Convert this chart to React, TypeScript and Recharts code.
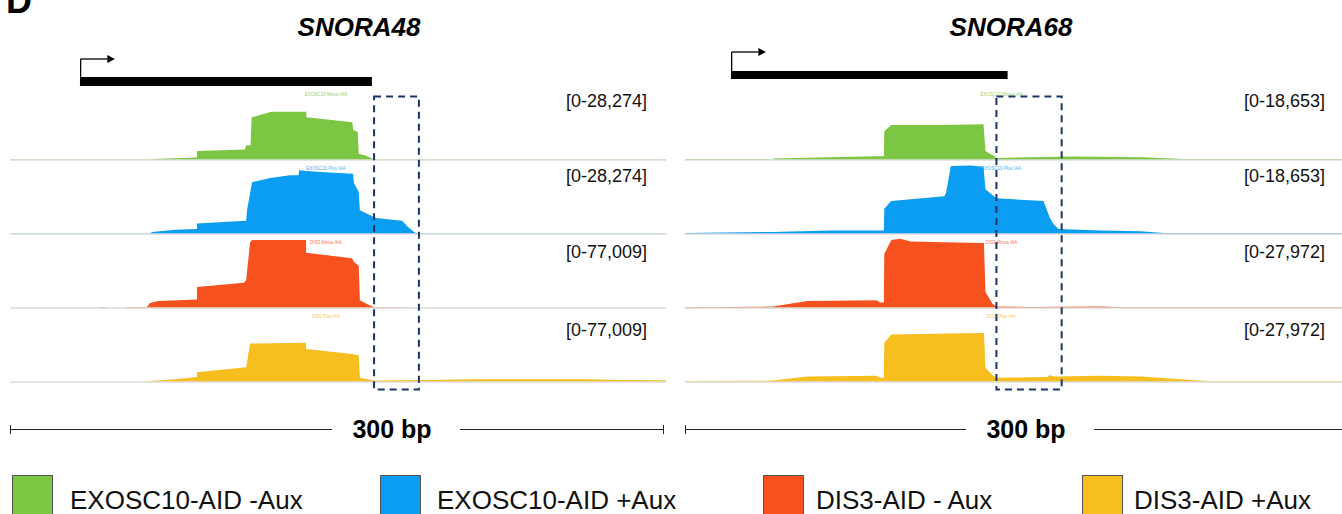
import React from 'react';
import { AreaChart, Area, XAxis, YAxis, ReferenceLine, ReferenceArea, ComposedChart, Line } from 'recharts';

type Pt = [number, number];

const FONT = '"Liberation Sans", Arial, Helvetica, sans-serif';

// ---- text / categories ----
const geneTitles = ['SNORA48', 'SNORA68'];
const legendLabels = ['EXOSC10-AID -Aux', 'EXOSC10-AID +Aux', 'DIS3-AID - Aux', 'DIS3-AID +Aux'];
const trackNames = ['EXOSC10 Minus IAA', 'EXOSC10 Plus IAA', 'DIS3 Minus IAA', 'DIS3 Plus IAA'];
const trackColors = ['#7DC644', '#0A9DF2', '#F6511F', '#F6BF1F'];
const scaleLabel = '300 bp';
const regionLength = 300; // bp shown in each panel

// ---- data ranges (autoscale maxima) ----
const snora48Max = [28274, 28274, 77009, 77009];
const snora68Max = [18653, 18653, 27972, 27972];
const snora48RangeLabels = ['[0-28,274]', '[0-28,274]', '[0-77,009]', '[0-77,009]'];
const snora68RangeLabels = ['[0-18,653]', '[0-18,653]', '[0-27,972]', '[0-27,972]'];

// ---- gene models & highlighted windows (bp within panel) ----
const snora48Gene: Pt = [32.0, 165.5];
const snora68Gene: Pt = [21.0, 147.3];
const snora48Window: Pt = [166.5, 187.0];
const snora68Window: Pt = [142.2, 172.0];

// ---- coverage tracks [bp, reads] ----
const s48Exo10Minus: Pt[] = [
  [0, 226], [64, 226], [65, 424], [85.5, 990], [85.5, 3676], [107.5, 4241], [108, 5938], [110, 5938],
  [110.5, 17247], [114, 18095], [119.5, 19509], [135.5, 19509], [135.5, 17247], [156.5, 15268],
  [157, 12158], [159, 11310], [159.5, 2545], [163, 1696], [165.5, 565], [167.5, 226], [300, 226],
];
const s48Exo10Plus: Pt[] = [
  [0, 226], [64, 226], [65, 848], [75.5, 1696], [85.5, 1979], [85.5, 4241], [108, 5372], [108.4, 9613],
  [110.7, 20923], [119, 22619], [128, 23750], [132, 23750], [132.2, 25729], [135.4, 25447], [146, 24881],
  [156.9, 24316], [157.3, 20640], [159.5, 16964], [160, 9613], [167.4, 6503], [179.3, 5372], [182, 2827],
  [184.8, 848], [186, 226], [300, 226],
];
const s48Dis3Minus: Pt[] = [
  [0, 0], [40, 0], [40, 770], [44, 770], [44, 0], [53, 0], [53, 770], [62.6, 770], [64, 5391], [67.7, 7701],
  [85.5, 9241], [85.5, 23103], [107, 27723], [108, 30804], [109.8, 72388], [110.7, 74699], [135.4, 74699],
  [135.4, 60837], [156.4, 54676], [157.3, 50826], [159.5, 46205], [160, 8471], [163.7, 3850], [166.5, 770],
  [184.4, 385], [185, 0], [300, 0],
];
const s48Dis3Plus: Pt[] = [
  [0, 0], [62, 0], [62.6, 770], [75.5, 3080], [85.5, 5391], [85.5, 10781], [108, 16172], [109.8, 42355],
  [135.4, 43125], [135.4, 36194], [156.4, 30804], [159.5, 29263], [160, 4621], [166.5, 1540], [190.7, 2310],
  [212, 3080], [265, 3080], [279, 2310], [300, 1925],
];
const s68Exo10Minus: Pt[] = [
  [0, 280], [38, 280], [38.4, 93], [40, 93], [40.2, 373], [66.3, 746], [87, 1026], [90.8, 1026], [91, 7648],
  [94.2, 9327], [116.6, 9327], [136.3, 9513], [137.2, 2425], [140.4, 1306], [142.2, 560], [177.4, 933],
  [208.5, 746], [228.2, 280], [300, 280],
];
const s68Exo10Plus: Pt[] = [
  [0, 280], [40.2, 560], [66.3, 933], [90.8, 933], [91, 6715], [94.2, 8767], [118.4, 10073], [119.2, 11000],
  [121.4, 18094], [130.3, 18280], [136.3, 17907], [137.2, 11938], [142.2, 9513], [163.7, 8767], [166.5, 4477],
  [168.3, 2611], [170.6, 1306], [189.8, 933], [208, 746], [218.6, 280], [300, 280],
];
const s68Dis3Minus: Pt[] = [
  [0, 280], [40.2, 559], [48, 1678], [55.8, 2797], [87.3, 3077], [89.2, 2238], [90.8, 2238], [91, 21538],
  [94.2, 27133], [98.3, 27692], [103, 26573], [134.4, 26013], [136.5, 26013], [137.2, 6436], [140.4, 1678],
  [142.2, 559], [157.8, 420], [190, 559], [200, 280], [300, 280],
];
const s68Dis3Plus: Pt[] = [
  [0, 420], [40.2, 559], [48, 1399], [55.8, 2238], [87.3, 2517], [89.2, 1678], [90.8, 1678], [91, 15664],
  [94.2, 19021], [134.4, 19580], [136.5, 19580], [137.2, 5594], [140.4, 2797], [142.2, 1678], [165.5, 1958],
  [166.5, 2797], [168.3, 2238], [189.8, 2517], [208.5, 2238], [226.4, 1119], [238.2, 420], [300, 420],
];

const snora48Tracks = [s48Exo10Minus, s48Exo10Plus, s48Dis3Minus, s48Dis3Plus];
const snora68Tracks = [s68Exo10Minus, s68Exo10Plus, s68Dis3Minus, s68Dis3Plus];

// ---- layout ----
const TRACK_TOPS = [90, 164, 238, 312];
const TRACK_H = 70;
const LABEL_BASELINES = [107, 182, 258, 336];

function Track({ data, max, color, width }: { data: Pt[]; max: number; color: string; width: number }) {
  const rows = data.map(([bp, v]) => ({ bp, v }));
  return (
    <AreaChart width={width} height={TRACK_H + 2} data={rows} margin={{ top: 0, right: 0, bottom: 2, left: 0 }}>
      <XAxis dataKey="bp" type="number" domain={[0, regionLength]} hide />
      <YAxis type="number" domain={[0, max]} hide allowDataOverflow />
      <ReferenceLine y={0} stroke="#dddddd" strokeWidth={1.5} />
      <Area dataKey="v" type="linear" stroke="none" fill={color} fillOpacity={1} isAnimationActive={false} />
    </AreaChart>
  );
}

const arrowHead = (props: any) => {
  const { x, y, width, height } = props;
  return <polygon points={`${x},${y} ${x + width},${y + height / 2} ${x},${y + height}`} fill="#000" />;
};

const frame = [{ bp: 0, y: 0 }, { bp: regionLength, y: 400 }];

function Overlay({ width, gene, win, geneY, arrowY }: { width: number; gene: Pt; win: Pt; geneY: Pt; arrowY: number }) {
  const arrowEnd = gene[0] + 12.5;
  const headEnd = gene[0] + 16;
  return (
    <ComposedChart width={width} height={400} data={frame} margin={{ top: 0, right: 0, bottom: 0, left: 0 }}>
      <XAxis dataKey="bp" type="number" domain={[0, regionLength]} hide allowDataOverflow />
      <YAxis type="number" domain={[0, 400]} reversed hide allowDataOverflow />
      <Line dataKey="y" stroke="none" dot={false} isAnimationActive={false} />
      <ReferenceArea x1={gene[0]} x2={gene[1]} y1={geneY[0]} y2={geneY[1]} fill="#000" fillOpacity={1} stroke="none" ifOverflow="visible" />
      <ReferenceLine segment={[{ x: gene[0] + 0.3, y: arrowY }, { x: gene[0] + 0.3, y: geneY[0] }]} stroke="#000" strokeWidth={1.3} ifOverflow="visible" />
      <ReferenceLine segment={[{ x: gene[0] + 0.3, y: arrowY }, { x: arrowEnd, y: arrowY }]} stroke="#000" strokeWidth={1.3} ifOverflow="visible" />
      <ReferenceArea x1={arrowEnd} x2={headEnd} y1={arrowY - 4} y2={arrowY + 4} shape={arrowHead} ifOverflow="visible" />
      <ReferenceArea
        x1={win[0]}
        x2={win[1]}
        y1={96.5}
        y2={389.5}
        fill="none"
        fillOpacity={0}
        stroke="#1B3566"
        strokeWidth={2}
        strokeDasharray="7 5"
        ifOverflow="visible"
      />
    </ComposedChart>
  );
}

function Panel({
  x0, width, tracks, maxes, gene, win, geneY, arrowY,
}: {
  x0: number; width: number; tracks: Pt[][]; maxes: number[]; gene: Pt; win: Pt; geneY: Pt; arrowY: number;
}) {
  return (
    <>
      {tracks.map((t, i) => (
        <div key={i} style={{ position: 'absolute', left: x0, top: TRACK_TOPS[i] }}>
          <Track data={t} max={maxes[i]} color={trackColors[i]} width={width} />
        </div>
      ))}
      <div style={{ position: 'absolute', left: x0, top: 0, pointerEvents: 'none' }}>
        <Overlay width={width} gene={gene} win={win} geneY={geneY} arrowY={arrowY} />
      </div>
    </>
  );
}

export default function App() {
  const L = { x0: 10, w: 656 };
  const R = { x0: 685, w: 657 };
  const legendX = [12, 380, 763, 1082];
  const legendTextX = [70, 437, 816, 1134];
  const tinyX = (p: { x0: number; w: number }) => p.x0 + (144.5 / regionLength) * p.w;
  return (
    <div style={{ position: 'absolute', left: 0, top: 0, width: 1342, height: 514, overflow: 'hidden', background: '#fff', fontFamily: FONT }}>
      <svg width={1342} height={514} style={{ position: 'absolute', left: 0, top: 0 }}>
        <text x={6} y={13} fontSize={36} fontWeight="bold" fontFamily={FONT} fill="#000">D</text>
        <text x={359} y={36} fontSize={26} fontWeight="bold" fontStyle="italic" textAnchor="middle" fontFamily={FONT}>{geneTitles[0]}</text>
        <text x={1011} y={36} fontSize={26} fontWeight="bold" fontStyle="italic" textAnchor="middle" fontFamily={FONT}>{geneTitles[1]}</text>
        {snora48RangeLabels.map((s, i) => (
          <text key={'l' + i} x={647} y={LABEL_BASELINES[i]} fontSize={18} textAnchor="end" fontFamily={FONT} fill="#111">{s}</text>
        ))}
        {snora68RangeLabels.map((s, i) => (
          <text key={'r' + i} x={1325} y={LABEL_BASELINES[i]} fontSize={18} textAnchor="end" fontFamily={FONT} fill="#111">{s}</text>
        ))}
        {trackNames.map((s, i) => (
          <g key={'t' + i}>
            <text x={tinyX(L)} y={TRACK_TOPS[i] + 6} fontSize={4.5} textAnchor="middle" fontFamily={FONT} fill={trackColors[i]} opacity={0.8}>{s}</text>
            <text x={tinyX(R)} y={TRACK_TOPS[i] + 6} fontSize={4.5} textAnchor="middle" fontFamily={FONT} fill={trackColors[i]} opacity={0.8}>{s}</text>
          </g>
        ))}
        {/* scale bars */}
        <g stroke="#222" strokeWidth={1}>
          <line x1={10} y1={429.5} x2={332} y2={429.5} />
          <line x1={460} y1={429.5} x2={664} y2={429.5} />
          <line x1={10.5} y1={425} x2={10.5} y2={434} />
          <line x1={663.5} y1={425} x2={663.5} y2={434} />
          <line x1={685} y1={429.5} x2={966} y2={429.5} />
          <line x1={1094} y1={429.5} x2={1342} y2={429.5} />
          <line x1={685.5} y1={425} x2={685.5} y2={434} />
        </g>
        <text x={392} y={438} fontSize={25} fontWeight="bold" textAnchor="middle" fontFamily={FONT}>{scaleLabel}</text>
        <text x={1026} y={438} fontSize={25} fontWeight="bold" textAnchor="middle" fontFamily={FONT}>{scaleLabel}</text>
        {/* legend */}
        {legendLabels.map((s, i) => (
          <g key={'g' + i}>
            <rect x={legendX[i] + 0.5} y={475.5} width={40} height={40} fill={trackColors[i]} stroke="#555" strokeWidth={1} />
            <text x={legendTextX[i]} y={509} fontSize={26} fontFamily={FONT} fill="#111">{s}</text>
          </g>
        ))}
      </svg>
      <Panel x0={L.x0} width={L.w} tracks={snora48Tracks} maxes={snora48Max} gene={snora48Gene} win={snora48Window} geneY={[77, 86]} arrowY={59} />
      <Panel x0={R.x0} width={R.w} tracks={snora68Tracks} maxes={snora68Max} gene={snora68Gene} win={snora68Window} geneY={[71, 79]} arrowY={52} />
    </div>
  );
}
